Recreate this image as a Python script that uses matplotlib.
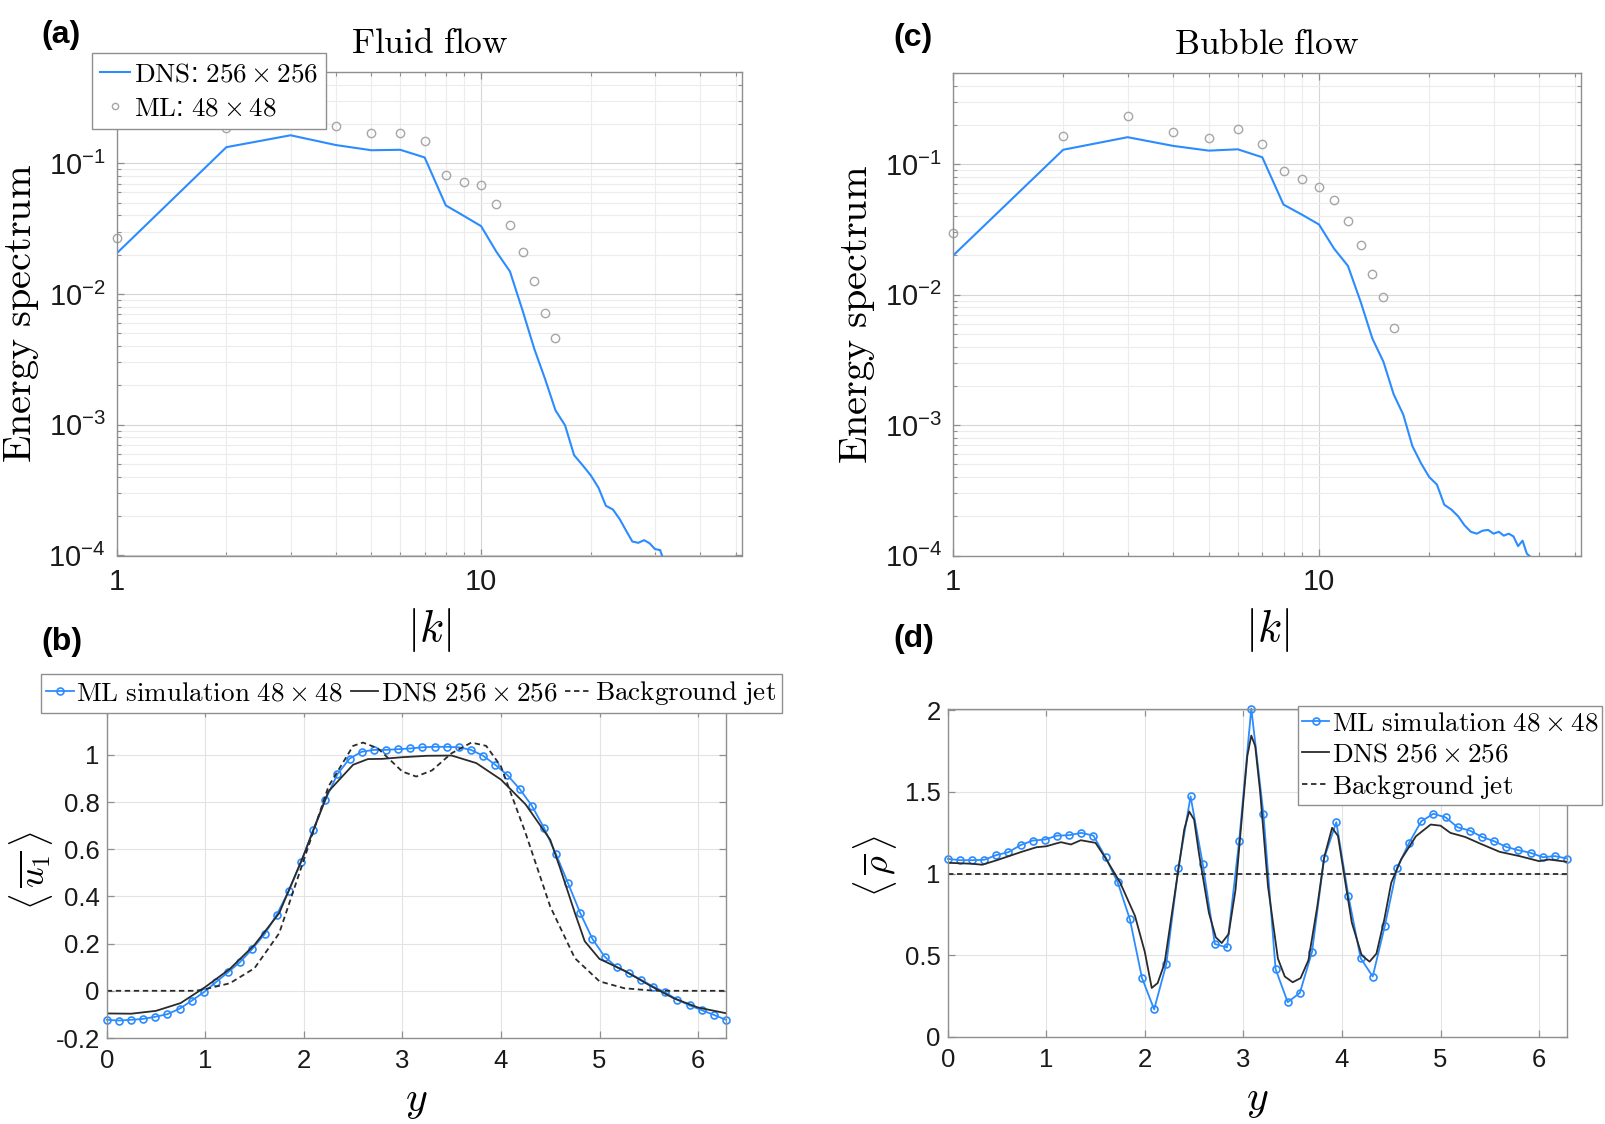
import numpy as np
import matplotlib
matplotlib.use("Agg")
import matplotlib.pyplot as plt
from matplotlib.ticker import FixedLocator, FixedFormatter, NullFormatter, LogLocator

plt.rcParams['font.family'] = ['Liberation Sans', 'DejaVu Sans']
plt.rcParams['mathtext.fontset'] = 'cm'
plt.rcParams['axes.unicode_minus'] = False

# ---- data: energy spectra ----
k_dns_fluid = list(range(1, 33))
E_dns_fluid = [0.0205, 0.133, 0.164, 0.138, 0.126, 0.127, 0.111, 0.0477, 0.0394, 0.0331,
               0.0212, 0.0149, 0.00747, 0.0038, 0.00222, 0.00129, 0.00099, 0.000585, 0.00049, 0.00041,
               0.00033, 0.00024, 0.000225, 0.00019, 0.000155, 0.000128, 0.000125, 0.000131, 0.000124, 0.000112,
               0.00011, 0.000085]
k_ml_fluid = list(range(1, 17))
E_ml_fluid = [0.0269, 0.186, 0.215, 0.194, 0.170, 0.172, 0.149, 0.0817, 0.0723, 0.0686,
              0.049, 0.0338, 0.0211, 0.01264, 0.00722, 0.00463]

k_dns_bubble = list(range(1, 40))
E_dns_bubble = [0.0199, 0.129, 0.161, 0.138, 0.127, 0.130, 0.113, 0.049, 0.0409, 0.0345,
                0.0225, 0.0166, 0.0088, 0.00459, 0.00306, 0.00172, 0.0012, 0.00069, 0.00051, 0.0004,
                0.00035, 0.000245, 0.000225, 0.0002, 0.00017, 0.000152, 0.000147, 0.000155, 0.000157, 0.000147,
                0.000152, 0.000142, 0.000147, 0.00014, 0.000118, 0.00013, 0.000103, 0.000097, 0.00009]
k_ml_bubble = list(range(1, 17))
E_ml_bubble = [0.0298, 0.163, 0.236, 0.175, 0.158, 0.185, 0.143, 0.089, 0.0768, 0.067,
               0.053, 0.0365, 0.0241, 0.0144, 0.0096, 0.0055]

# ---- data: mean profiles ----
y_ml = np.linspace(0, 2 * np.pi, 52)
u_ml = [-0.123, -0.126, -0.123, -0.119, -0.110, -0.099, -0.076, -0.042, -0.006, 0.037,
        0.079, 0.123, 0.178, 0.240, 0.322, 0.424, 0.545, 0.682, 0.809, 0.918,
        0.984, 1.013, 1.021, 1.021, 1.024, 1.027, 1.032, 1.034, 1.034, 1.032,
        1.021, 0.996, 0.958, 0.914, 0.856, 0.785, 0.692, 0.579, 0.455, 0.329,
        0.220, 0.145, 0.100, 0.075, 0.047, 0.018, -0.007, -0.038, -0.062, -0.082,
        -0.102, -0.123]
y_dns_u = [0.0, 0.25, 0.5, 0.75, 1.0, 1.25, 1.5, 1.75, 2.0, 2.25, 2.5, 2.65, 2.8, 3.0,
           3.25, 3.5, 3.75, 4.0, 4.25, 4.5, 4.6, 4.75, 4.85, 5.0, 5.25, 5.5, 5.75, 6.0, 6.2832]
u_dns = [-0.096, -0.097, -0.085, -0.052, 0.016, 0.093, 0.195, 0.329, 0.576, 0.845, 0.958,
         0.982, 0.983, 0.990, 0.996, 0.997, 0.965, 0.895, 0.79, 0.64, 0.52, 0.33, 0.21,
         0.135, 0.086, 0.025, -0.031, -0.071, -0.095]
y_jet_u = [0.0, 0.9, 1.0, 1.25, 1.5, 1.75, 2.0, 2.25, 2.5, 2.6, 2.75, 3.0, 3.14, 3.3, 3.5,
           3.7, 3.85, 4.0, 4.25, 4.5, 4.75, 5.0, 5.25, 5.5, 5.6, 6.2832]
u_jet = [0.0, 0.0, 0.007, 0.032, 0.096, 0.244, 0.555, 0.866, 1.038, 1.052, 1.028, 0.929,
         0.908, 0.934, 1.007, 1.052, 1.038, 0.951, 0.668, 0.357, 0.138, 0.040, 0.011,
         0.002, 0.0, 0.0]

rho_ml = [1.090, 1.082, 1.082, 1.084, 1.113, 1.131, 1.174, 1.202, 1.208, 1.232,
          1.235, 1.249, 1.232, 1.100, 0.946, 0.721, 0.361, 0.169, 0.445, 1.034,
          1.472, 1.060, 0.569, 0.548, 1.198, 2.010, 1.366, 0.416, 0.213, 0.270,
          0.520, 1.094, 1.314, 0.863, 0.483, 0.370, 0.680, 1.034, 1.188, 1.320,
          1.366, 1.344, 1.283, 1.263, 1.224, 1.198, 1.163, 1.143, 1.127, 1.100,
          1.107, 1.092]
y_dns_rho = [0.0, 0.25, 0.35, 0.5, 0.75, 0.9, 1.0, 1.1, 1.15, 1.25, 1.35, 1.5, 1.6, 1.75,
             1.9, 2.0, 2.07, 2.13, 2.2, 2.3, 2.4, 2.45, 2.5, 2.55, 2.65, 2.72, 2.78, 2.85,
             2.92, 3.0, 3.04, 3.08, 3.12, 3.17, 3.25, 3.35, 3.42, 3.5, 3.58, 3.66, 3.75,
             3.82, 3.9, 3.96, 4.02, 4.1, 4.2, 4.28, 4.35, 4.43, 4.5, 4.6, 4.75, 4.9, 5.0,
             5.1, 5.25, 5.4, 5.6, 5.8, 6.0, 6.1, 6.2832]
rho_dns = [1.066, 1.06, 1.054, 1.082, 1.133, 1.161, 1.167, 1.184, 1.192, 1.178, 1.204,
           1.188, 1.096, 0.944, 0.741, 0.52, 0.30, 0.33, 0.45, 0.86, 1.27, 1.38, 1.33,
           1.12, 0.76, 0.61, 0.575, 0.63, 0.90, 1.45, 1.72, 1.844, 1.78, 1.50, 0.92,
           0.48, 0.37, 0.335, 0.36, 0.47, 0.80, 1.10, 1.28, 1.23, 1.00, 0.70, 0.50, 0.461,
           0.51, 0.72, 0.944, 1.086, 1.228, 1.30, 1.293, 1.249, 1.224, 1.184, 1.133, 1.107,
           1.076, 1.086, 1.072]
y_jet_rho = [0.0, 6.2832]
rho_jet = [1.0, 1.0]

BLUE = '#2b8cff'
DARK = '#2b2b2b'
GRAYC = '#a6a6a6'
SPINE = '#8f8f8f'
LEG_FS = 19.5

W, H = 1605, 1124
fig = plt.figure(figsize=(W / 100, H / 100), dpi=100)


def box(l, t, r, b):
    return [l / W, 1 - b / H, (r - l) / W, (b - t) / H]


def style(ax, ypad, xpad, size):
    for s in ax.spines.values():
        s.set_color(SPINE)
        s.set_linewidth(1.0)
    ax.tick_params(which='both', direction='in', top=True, right=True, color=SPINE,
                   labelcolor='#1a1a1a', labelsize=size)
    ax.tick_params(which='major', length=5, width=0.9)
    ax.tick_params(which='minor', length=3, width=0.8)
    ax.tick_params(axis='y', pad=ypad)
    ax.tick_params(axis='x', pad=xpad)
    ax.set_axisbelow(True)


def legend_box(ax, x, y, **kw):
    lg = ax.legend(loc='upper left', bbox_to_anchor=(x / W, 1 - y / H), bbox_transform=fig.transFigure,
                   fontsize=LEG_FS, frameon=True, fancybox=False, edgecolor=SPINE, framealpha=1,
                   borderaxespad=0, **kw)
    lg.get_frame().set_linewidth(1.0)
    return lg


def spectrum(ax, kd, Ed, km, Em, title):
    ax.plot(kd, Ed, color=BLUE, lw=1.5, label=r'$\mathrm{DNS}$:$\ \mathrm{256 \times 256}$')
    ax.plot(km, Em, ls='none', marker='o', ms=6, mfc='none', mec=GRAYC, mew=1.0,
            label=r'$\mathrm{ML}$:$\ \mathrm{48 \times 48}$', clip_on=False)
    ax.set_xscale('log')
    ax.set_yscale('log')
    ax.set_xlim(1, 52)
    ax.set_ylim(1e-4, 0.5)
    ax.xaxis.set_major_locator(FixedLocator([1, 10]))
    ax.xaxis.set_major_formatter(FixedFormatter(['1', '10']))
    ax.xaxis.set_minor_locator(LogLocator(base=10, subs=np.arange(2, 10)))
    ax.xaxis.set_minor_formatter(NullFormatter())
    ax.yaxis.set_major_locator(FixedLocator([1e-4, 1e-3, 1e-2, 1e-1]))
    ax.yaxis.set_major_formatter(FixedFormatter([r'$\mathdefault{10^{-4}}$', r'$\mathdefault{10^{-3}}$',
                                                 r'$\mathdefault{10^{-2}}$', r'$\mathdefault{10^{-1}}$']))
    ax.yaxis.set_minor_locator(LogLocator(base=10, subs=np.arange(2, 10)))
    ax.yaxis.set_minor_formatter(NullFormatter())
    ax.grid(which='major', color='#d6d6d6', lw=0.8)
    ax.grid(which='minor', color='#ececec', lw=0.8)
    style(ax, 8, 9, 21)
    ax.set_ylabel(r'$\mathrm{Energy\ spectrum}$', fontsize=29)
    ax.yaxis.set_label_coords(-0.152, 0.5)
    ax.yaxis.label.set_va('center')
    ax.set_xlabel(r'$|k|$', fontsize=32)
    ax.xaxis.set_label_coords(0.5, -0.154)
    ax.xaxis.label.set_va('center')
    ax.text(0.5, 1 + 29 / 484, r'$\mathrm{' + title + '}$', transform=ax.transAxes,
            ha='center', va='center', fontsize=25.5)


def profile(ax, y_ml_, v_ml, y_dns, v_dns, y_jet, v_jet):
    ax.plot(y_ml_, v_ml, color=BLUE, lw=1.3, marker='o', ms=5, mfc='none', mew=1.2,
            label=r'$\mathrm{ML\ simulation\ 48 \times 48}$', clip_on=False)
    ax.plot(y_dns, v_dns, color=DARK, lw=1.3, label=r'$\mathrm{DNS\ 256 \times 256}$')
    ax.plot(y_jet, v_jet, color=DARK, lw=1.3, ls=(0, (3, 2)), label=r'$\mathrm{Background\ jet}$')
    ax.set_xlim(0, 2 * np.pi)
    ax.set_xticks([0, 1, 2, 3, 4, 5, 6])
    ax.grid(color='#e3e3e3', lw=0.8)
    style(ax, 5, 8, 18.5)
    ax.set_xlabel(r'$y$', fontsize=30)
    ax.xaxis.set_label_coords(0.5, -0.192)
    ax.xaxis.label.set_va('center')


# (a) fluid spectrum
axa = fig.add_axes(box(116.7, 72, 742, 555.5))
spectrum(axa, k_dns_fluid, E_dns_fluid, k_ml_fluid, E_ml_fluid, r'Fluid\ flow')
legend_box(axa, 91.7, 53, borderpad=0.3, labelspacing=0.3, handlelength=1.1, handletextpad=0.15,
           markerscale=0.75)

# (c) bubble spectrum
axc = fig.add_axes(box(953, 73, 1581, 555.5))
spectrum(axc, k_dns_bubble, E_dns_bubble, k_ml_bubble, E_ml_bubble, r'Bubble\ flow')

# (b) mean velocity
axb = fig.add_axes(box(106.7, 710, 726, 1038))
profile(axb, y_ml, u_ml, y_dns_u, u_dns, y_jet_u, u_jet)
axb.set_ylim(-0.2, 1.19)
axb.set_yticks([-0.2, 0, 0.2, 0.4, 0.6, 0.8, 1.0])
axb.set_yticklabels(['-0.2', '0', '0.2', '0.4', '0.6', '0.8', '1'])
axb.set_ylabel(r'$\langle\,\overline{u_1}\,\rangle$', fontsize=26)
axb.yaxis.set_label_coords(-0.122, 0.51)
axb.yaxis.label.set_va('center')
legend_box(axb, 41, 674, ncol=3, borderpad=0.2, handlelength=1.0, handletextpad=0.1, columnspacing=0.3)

# (d) mean density
axd = fig.add_axes(box(947.7, 708.5, 1567, 1037))
profile(axd, y_ml, rho_ml, y_dns_rho, rho_dns, y_jet_rho, rho_jet)
axd.set_ylim(0, 2.01)
axd.set_yticks([0, 0.5, 1, 1.5, 2])
axd.set_yticklabels(['0', '0.5', '1', '1.5', '2'])
axd.set_ylabel(r'$\langle\,\overline{\rho}\,\rangle$', fontsize=26)
axd.yaxis.set_label_coords(-0.117, 0.52)
axd.yaxis.label.set_va('center')
legend_box(axd, 1298, 706, borderpad=0.15, labelspacing=0.2, handlelength=1.0, handletextpad=0.1)

# panel letters
for lab, x, y in [('(a)', 41, 35), ('(b)', 41, 642), ('(c)', 893, 38), ('(d)', 893, 639)]:
    fig.text(x / W, 1 - y / H, lab, fontsize=23, fontweight='bold', ha='left', va='center')

fig.savefig('out.png', dpi=100)
